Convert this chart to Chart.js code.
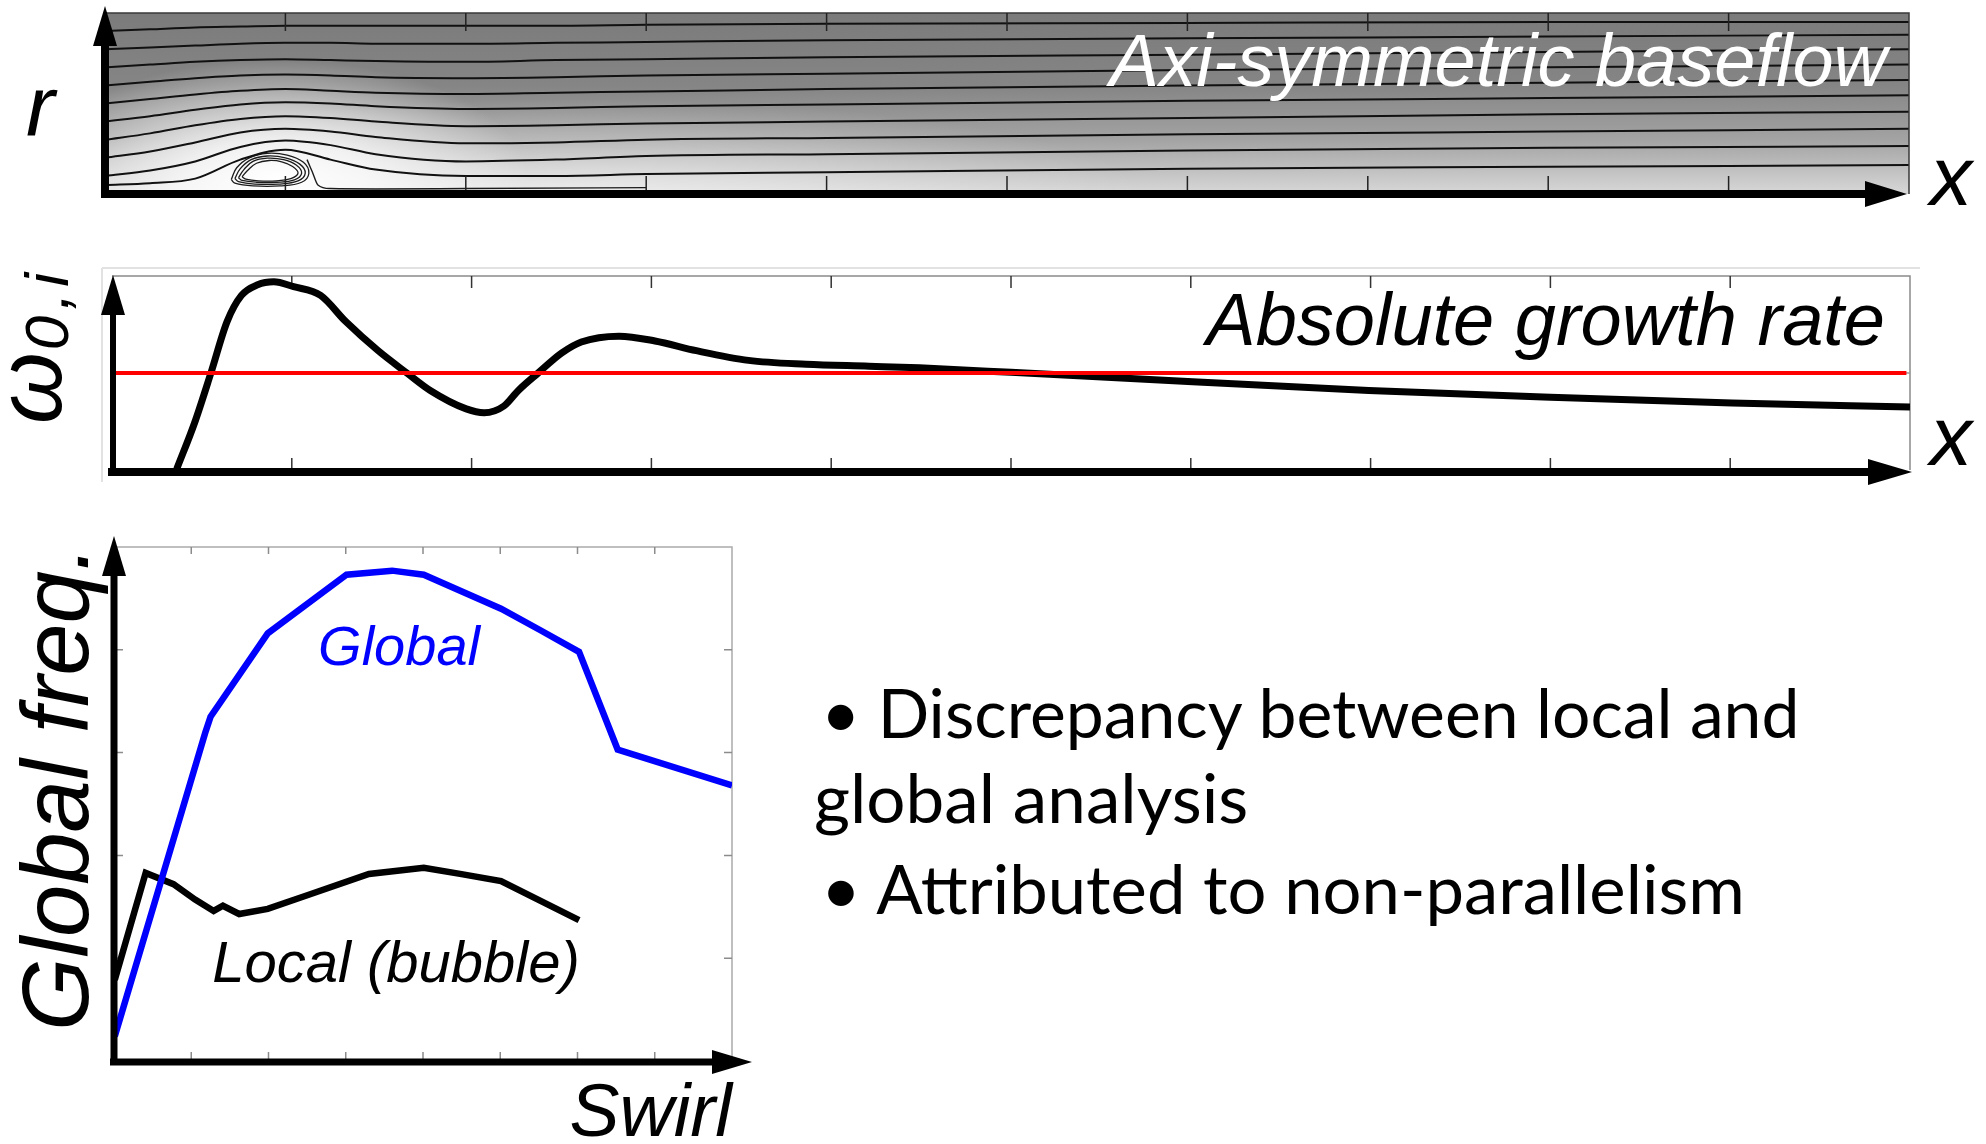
<!DOCTYPE html>
<html>
<head>
<meta charset="utf-8">
<script src="https://cdn.jsdelivr.net/npm/chart.js@4.4.1/dist/chart.umd.min.js"></script>
<style>
  html, body { margin: 0; padding: 0; background: #fff; width: 1986px; height: 1144px; overflow: hidden; }
  canvas { position: absolute; }
  .bl { position: absolute; font-family: Lato, "Open Sans", sans-serif; font-size: 67px; color: #000;
        white-space: nowrap; line-height: 1.2; transform-origin: 0 0; }
  .m { display: inline-block; width: 0; height: 0; }
</style>
</head>
<body>
<canvas id="flow" width="1986" height="215" style="left:0;top:0"></canvas>
<canvas id="growth" width="1986" height="250" style="left:0;top:250px"></canvas>
<canvas id="freq" width="790" height="624" style="left:0;top:520px"></canvas>

<div class="bl" data-base="738" data-w="978" style="left:821px"><span class="t">• Discrepancy between local and</span><span class="m"></span></div>
<div class="bl" data-base="823" data-w="434" style="left:814px"><span class="t">global analysis</span><span class="m"></span></div>
<div class="bl" data-base="914" data-w="924" style="left:821px"><span class="t">• Attributed to non-parallelism</span><span class="m"></span></div>

<script>
// ---- top panel: baseflow streamlines (x from 0 to 10, r from 0 to 1)
const flowX = [0, 0.25, 0.5, 0.75, 1, 1.25, 1.5, 2, 2.5, 3, 4, 6, 8, 10];
const streamR = [
  [0.90, 0.91, 0.92, 0.925, 0.93, 0.93, 0.93, 0.93, 0.93, 0.935, 0.94, 0.945, 0.95, 0.95],
  [0.80, 0.81, 0.82, 0.83, 0.835, 0.835, 0.83, 0.83, 0.835, 0.84, 0.85, 0.86, 0.87, 0.88],
  [0.70, 0.715, 0.73, 0.74, 0.745, 0.74, 0.735, 0.73, 0.74, 0.745, 0.755, 0.77, 0.785, 0.80],
  [0.60, 0.62, 0.64, 0.655, 0.66, 0.655, 0.645, 0.64, 0.645, 0.655, 0.665, 0.685, 0.70, 0.715],
  [0.50, 0.525, 0.55, 0.57, 0.58, 0.57, 0.56, 0.553, 0.56, 0.566, 0.58, 0.60, 0.615, 0.63],
  [0.40, 0.43, 0.465, 0.495, 0.507, 0.50, 0.485, 0.47, 0.475, 0.485, 0.495, 0.515, 0.53, 0.545],
  [0.30, 0.335, 0.38, 0.415, 0.43, 0.42, 0.40, 0.375, 0.38, 0.39, 0.40, 0.42, 0.44, 0.455],
  [0.20, 0.235, 0.285, 0.34, 0.36, 0.345, 0.315, 0.28, 0.285, 0.30, 0.31, 0.33, 0.345, 0.36],
  [0.10, 0.13, 0.18, 0.26, 0.295, 0.27, 0.22, 0.18, 0.19, 0.21, 0.22, 0.24, 0.255, 0.265],
  [0.05, 0.06, 0.085, 0.19, 0.245, 0.19, 0.135, 0.10, 0.10, 0.11, 0.12, 0.14, 0.15, 0.16]
];
const sepX = [1.12, 1.15, 1.18, 1.25, 1.5, 2, 3];
const sepR = [0.19, 0.12, 0.05, 0.03, 0.028, 0.03, 0.035];
// recirculation bubble loops
const loopAX = [0.70, 0.73, 0.80, 0.90, 1.01, 1.10, 1.13, 1.09, 0.97, 0.82, 0.72, 0.70];
const loopAR = [0.08, 0.145, 0.20, 0.225, 0.215, 0.175, 0.115, 0.065, 0.045, 0.045, 0.06, 0.08];
const loopBX = [0.72, 0.75, 0.81, 0.90, 1.00, 1.08, 1.11, 1.07, 0.96, 0.83, 0.74, 0.72];
const loopBR = [0.085, 0.14, 0.19, 0.21, 0.20, 0.165, 0.115, 0.072, 0.055, 0.055, 0.068, 0.085];
const loopCX = [0.74, 0.77, 0.82, 0.90, 0.99, 1.06, 1.09, 1.05, 0.95, 0.84, 0.76, 0.74];
const loopCR = [0.09, 0.135, 0.18, 0.198, 0.19, 0.16, 0.115, 0.078, 0.065, 0.065, 0.075, 0.09];
const loopDX = [0.76, 0.79, 0.84, 0.91, 0.98, 1.04, 1.07, 1.03, 0.95, 0.85, 0.78, 0.76];
const loopDR = [0.095, 0.13, 0.17, 0.185, 0.178, 0.152, 0.115, 0.085, 0.073, 0.073, 0.082, 0.095];
const flowTicks = [1, 2, 3, 4, 5, 6, 7, 8, 9];

// ---- middle panel: absolute growth rate along x
const growthX = [0.36, 0.46, 0.55, 0.64, 0.72, 0.81, 0.90, 1.01, 1.16, 1.30, 1.48, 1.64, 1.77, 1.97, 2.07,
  2.18, 2.26, 2.37, 2.50, 2.61, 2.82, 3.02, 3.25, 3.54, 3.86, 4.21, 4.49, 5.0, 6.01, 6.99, 8.0, 9.01, 10.0];
const growthRate = [-0.99, -0.51, 0.0, 0.53, 0.80, 0.91, 0.94, 0.89, 0.80, 0.53, 0.23, 0.0, -0.18, -0.37, -0.41,
  -0.34, -0.18, 0.0, 0.205, 0.32, 0.38, 0.33, 0.23, 0.13, 0.09, 0.07, 0.053, 0.007, -0.09, -0.18, -0.25, -0.31, -0.35];
const zeroX = [0, 9.98];
const zeroY = [0, 0];
const growthTicks = [1, 2, 3, 4, 5, 6, 7, 8, 9];

// ---- bottom panel: frequency vs swirl
const swirlGlobal = [0.01, 1.18, 1.25, 1.99, 3.01, 3.6, 4.01, 5.01, 5.52, 6.02, 6.52, 8.0];
const freqGlobal = [0.24, 3.19, 3.35, 4.16, 4.73, 4.77, 4.73, 4.40, 4.19, 3.98, 3.03, 2.68];
const swirlLocal = [0.01, 0.41, 0.77, 1.05, 1.29, 1.41, 1.62, 1.99, 2.53, 3.30, 4.01, 4.48, 5.01, 6.02];
const freqLocal = [0.79, 1.83, 1.72, 1.57, 1.46, 1.51, 1.43, 1.48, 1.62, 1.82, 1.88, 1.82, 1.75, 1.37];
const swirlTicks = [1, 2, 3, 4, 5, 6, 7];
const freqTicks = [1, 2, 3, 4];

const FONT = '"Liberation Sans", Arial, sans-serif';
const pts = (xs, ys) => xs.map((x, i) => ({ x: x, y: ys[i] }));

function arrowUp(ctx, x, yBottom, yTip, w, len, half) {
  ctx.fillStyle = '#000';
  ctx.fillRect(x - w / 2, yTip + len - 2, w, yBottom - (yTip + len - 2));
  ctx.beginPath();
  ctx.moveTo(x, yTip);
  ctx.lineTo(x - half, yTip + len);
  ctx.lineTo(x + half, yTip + len);
  ctx.closePath();
  ctx.fill();
}
function arrowRight(ctx, y, xLeft, xTip, w, len, half) {
  ctx.fillStyle = '#000';
  ctx.fillRect(xLeft, y - w / 2, xTip - len + 2 - xLeft, w);
  ctx.beginPath();
  ctx.moveTo(xTip, y);
  ctx.lineTo(xTip - len, y - half);
  ctx.lineTo(xTip - len, y + half);
  ctx.closePath();
  ctx.fill();
}

function baseOptions(xmin, xmax, ymin, ymax, pad) {
  return {
    responsive: false,
    animation: false,
    events: [],
    layout: { padding: pad },
    plugins: { legend: { display: false }, tooltip: { enabled: false } },
    elements: { point: { radius: 0 } },
    scales: {
      x: { type: 'linear', min: xmin, max: xmax, display: false },
      y: { type: 'linear', min: ymin, max: ymax, display: false }
    }
  };
}

// ================= top panel =================
const flowSets = streamR.map(r => ({
  data: pts(flowX, r), borderColor: '#111', borderWidth: 2, cubicInterpolationMode: 'monotone'
}));
flowSets.push({ data: pts(sepX, sepR), borderColor: '#1c1c1c', borderWidth: 1.4, cubicInterpolationMode: 'monotone' });
[[loopAX, loopAR], [loopBX, loopBR], [loopCX, loopCR], [loopDX, loopDR]].forEach(l => {
  flowSets.push({ data: pts(l[0], l[1]), borderColor: '#1c1c1c', borderWidth: 1.3, tension: 0.4 });
});

new Chart(document.getElementById('flow'), {
  type: 'line',
  data: { datasets: flowSets },
  options: baseOptions(0, 10, 0, 1, { left: 105, right: 77, top: 13, bottom: 21 }),
  plugins: [{
    id: 'flowDecor',
    beforeDatasetsDraw(chart) {
      const { ctx, chartArea: a, scales: { x, y } } = chart;
      ctx.save();
      const g = ctx.createLinearGradient(0, a.top, 0, a.bottom);
      g.addColorStop(0, '#7b7b7b');
      g.addColorStop(0.4, '#858585');
      g.addColorStop(0.7, '#a3a3a3');
      g.addColorStop(1, '#d8d8d8');
      ctx.fillStyle = g;
      ctx.fillRect(a.left, a.top, a.right - a.left, a.bottom - a.top);
      ctx.beginPath();
      ctx.rect(a.left, a.top, a.right - a.left, a.bottom - a.top);
      ctx.clip();
      // light wake along the axis
      ctx.save();
      ctx.translate(x.getPixelForValue(2.6), y.getPixelForValue(0));
      ctx.scale(6, 1);
      let rg = ctx.createRadialGradient(0, 0, 0, 0, 0, 95);
      rg.addColorStop(0, 'rgba(255,255,255,0.55)');
      rg.addColorStop(1, 'rgba(255,255,255,0)');
      ctx.fillStyle = rg;
      ctx.fillRect(-200, -200, 400, 400);
      ctx.restore();
      // bright spot around the bubble
      ctx.save();
      ctx.translate(x.getPixelForValue(0.95), y.getPixelForValue(0.08));
      ctx.scale(2.1, 1);
      rg = ctx.createRadialGradient(0, 0, 0, 0, 0, 120);
      rg.addColorStop(0, 'rgba(255,255,255,1)');
      rg.addColorStop(0.35, 'rgba(255,255,255,0.78)');
      rg.addColorStop(1, 'rgba(255,255,255,0)');
      ctx.fillStyle = rg;
      ctx.fillRect(-300, -300, 600, 600);
      ctx.restore();
      ctx.restore();
    },
    afterDatasetsDraw(chart) {
      const { ctx, chartArea: a, scales: { x } } = chart;
      ctx.save();
      // frame
      ctx.strokeStyle = '#3a3a3a';
      ctx.lineWidth = 1.5;
      ctx.beginPath();
      ctx.moveTo(a.left, a.top); ctx.lineTo(a.right, a.top); ctx.lineTo(a.right, a.bottom);
      ctx.stroke();
      // inward ticks
      ctx.strokeStyle = '#222';
      ctx.lineWidth = 1.5;
      flowTicks.forEach(t => {
        const px = x.getPixelForValue(t);
        ctx.beginPath();
        ctx.moveTo(px, a.top); ctx.lineTo(px, a.top + 18);
        ctx.moveTo(px, a.bottom); ctx.lineTo(px, a.bottom - 18);
        ctx.stroke();
      });
      // title
      ctx.fillStyle = '#fff';
      ctx.font = 'italic 74px ' + FONT;
      ctx.textAlign = 'right';
      ctx.textBaseline = 'alphabetic';
      ctx.fillText('Axi-symmetric baseflow', 1887, 86);
      // axes
      arrowRight(ctx, a.bottom, a.left - 4, 1907, 8, 42, 13);
      arrowUp(ctx, a.left, a.bottom + 4, 6, 8, 40, 12);
      // axis letters
      ctx.fillStyle = '#000';
      ctx.textAlign = 'left';
      ctx.font = 'italic 86px ' + FONT;
      ctx.fillText('r', 26, 136);
      ctx.font = 'italic 84px ' + FONT;
      ctx.fillText('x', 1930, 205);
      ctx.restore();
    }
  }]
});

// ================= middle panel =================
new Chart(document.getElementById('growth'), {
  type: 'line',
  data: {
    datasets: [
      { data: pts(zeroX, zeroY), borderColor: '#ff0000', borderWidth: 4 },
      { data: pts(growthX, growthRate), borderColor: '#000', borderWidth: 7, cubicInterpolationMode: 'monotone' }
    ]
  },
  options: baseOptions(0, 10, -1, 1, { left: 112, right: 76, top: 26, bottom: 30 }),
  plugins: [{
    id: 'growthDecor',
    beforeDatasetsDraw(chart) {
      const { ctx, chartArea: a, scales: { x, y } } = chart;
      ctx.save();
      ctx.strokeStyle = '#e2e2e2';
      ctx.lineWidth = 2;
      ctx.beginPath();
      ctx.moveTo(a.left - 10, a.top - 8); ctx.lineTo(a.right + 10, a.top - 8);
      ctx.moveTo(a.left - 10, a.top - 8); ctx.lineTo(a.left - 10, a.bottom + 12);
      ctx.stroke();
      ctx.strokeStyle = '#8a8a8a';
      ctx.lineWidth = 1.5;
      ctx.beginPath();
      ctx.moveTo(a.left, a.top); ctx.lineTo(a.right, a.top); ctx.lineTo(a.right, a.bottom);
      ctx.stroke();
      ctx.strokeStyle = '#333';
      growthTicks.forEach(t => {
        const px = x.getPixelForValue(t);
        ctx.beginPath();
        ctx.moveTo(px, a.top); ctx.lineTo(px, a.top + 12);
        ctx.moveTo(px, a.bottom); ctx.lineTo(px, a.bottom - 12);
        ctx.stroke();
      });
      ctx.strokeStyle = '#999';
      const py = y.getPixelForValue(0);
      ctx.beginPath();
      ctx.moveTo(a.right, py); ctx.lineTo(a.right - 8, py);
      ctx.stroke();
      ctx.restore();
    },
    afterDatasetsDraw(chart) {
      const { ctx, chartArea: a } = chart;
      ctx.save();
      arrowRight(ctx, a.bottom + 2, a.left - 4, 1912, 8, 44, 13);
      arrowUp(ctx, a.left + 1, a.bottom + 4, a.top - 1, 6, 40, 12);
      ctx.fillStyle = '#000';
      ctx.textBaseline = 'alphabetic';
      ctx.font = 'italic 74px ' + FONT;
      ctx.textAlign = 'right';
      ctx.fillText('Absolute growth rate', 1885, 95);
      ctx.textAlign = 'left';
      ctx.font = 'italic 84px ' + FONT;
      ctx.fillText('x', 1930, 215);
      // rotated omega label
      ctx.translate(61, 174);
      ctx.rotate(-Math.PI / 2);
      ctx.font = 'italic 92px ' + FONT;
      ctx.fillText('ω', 0, 0);
      const w = ctx.measureText('ω').width;
      ctx.font = 'italic 62px ' + FONT;
      ctx.letterSpacing = '6px';
      ctx.fillText('0,i', w + 2, 7);
      ctx.restore();
    }
  }]
});

// ================= bottom panel =================
new Chart(document.getElementById('freq'), {
  type: 'line',
  data: {
    datasets: [
      { data: pts(swirlGlobal, freqGlobal), borderColor: '#0000ff', borderWidth: 6.5 },
      { data: pts(swirlLocal, freqLocal), borderColor: '#000', borderWidth: 6.5 }
    ]
  },
  options: baseOptions(0, 8, 0, 5, { left: 114, right: 58, top: 27, bottom: 83 }),
  plugins: [{
    id: 'freqDecor',
    beforeDatasetsDraw(chart) {
      const { ctx, chartArea: a, scales: { x, y } } = chart;
      ctx.save();
      ctx.strokeStyle = '#aaaaaa';
      ctx.lineWidth = 1.5;
      ctx.beginPath();
      ctx.moveTo(a.left, a.top); ctx.lineTo(a.right, a.top); ctx.lineTo(a.right, a.bottom);
      ctx.stroke();
      ctx.strokeStyle = '#8c8c8c';
      swirlTicks.forEach(t => {
        const px = x.getPixelForValue(t);
        ctx.beginPath();
        ctx.moveTo(px, a.top); ctx.lineTo(px, a.top + 7);
        ctx.moveTo(px, a.bottom); ctx.lineTo(px, a.bottom - 9);
        ctx.stroke();
      });
      freqTicks.forEach(t => {
        const py = y.getPixelForValue(t);
        ctx.beginPath();
        ctx.moveTo(a.right, py); ctx.lineTo(a.right - 8, py);
        ctx.moveTo(a.left, py); ctx.lineTo(a.left + 9, py);
        ctx.stroke();
      });
      ctx.restore();
    },
    afterDatasetsDraw(chart) {
      const { ctx, chartArea: a, scales: { x, y } } = chart;
      ctx.save();
      arrowRight(ctx, a.bottom + 1, a.left - 4, 752, 7, 40, 12);
      arrowUp(ctx, a.left, a.bottom + 4, 16, 7, 40, 12);
      ctx.textBaseline = 'alphabetic';
      ctx.textAlign = 'center';
      ctx.font = 'italic 56px ' + FONT;
      ctx.fillStyle = '#0000ff';
      ctx.fillText('Global', x.getPixelForValue(3.69), y.getPixelForValue(3.85));
      ctx.font = 'italic 58px ' + FONT;
      ctx.fillStyle = '#000';
      ctx.fillText('Local (bubble)', x.getPixelForValue(3.65), y.getPixelForValue(0.77));
      ctx.textAlign = 'right';
      ctx.font = 'italic 75px ' + FONT;
      ctx.fillText('Swirl', 732, 616);
      ctx.translate(88, 268);
      ctx.rotate(-Math.PI / 2);
      ctx.textAlign = 'center';
      ctx.font = 'italic 94px ' + FONT;
      ctx.fillText('Global freq.', 0, 0);
      ctx.restore();
    }
  }]
});

// ---- bullet text: fit each line to its width and put its baseline in place
function placeBullets() {
  document.querySelectorAll('.bl').forEach(el => {
    const t = el.querySelector('.t');
    const m = el.querySelector('.m');
    const k = Number(el.dataset.w) / t.offsetWidth;
    el.style.top = (Number(el.dataset.base) - m.offsetTop) + 'px';
    el.style.transform = 'scaleX(' + k + ')';
  });
}
placeBullets();
if (document.fonts) document.fonts.ready.then(placeBullets);
</script>
</body>
</html>
